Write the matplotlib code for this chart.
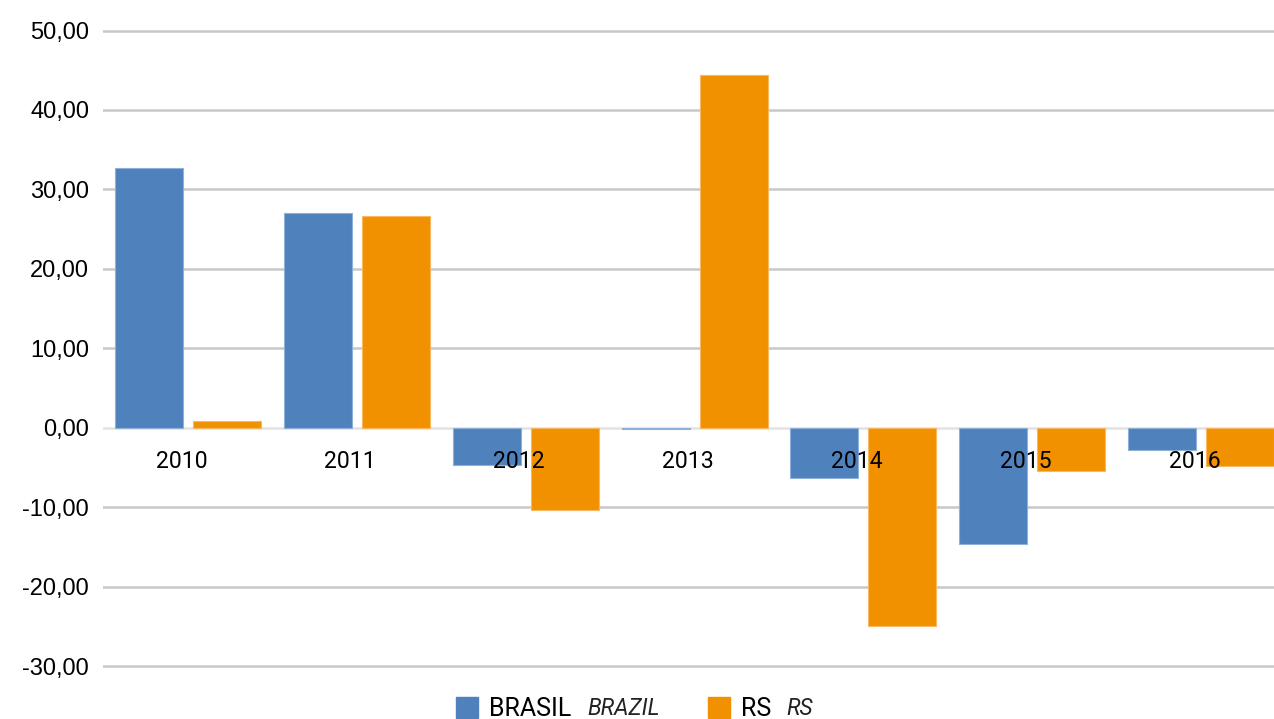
import matplotlib.pyplot as plt
from matplotlib.patches import Patch

plt.rcParams['font.family'] = ['Roboto', 'DejaVu Sans']

years = ['2010', '2011', '2012', '2013', '2014', '2015', '2016']
brasil = [32.7, 27.0, -4.65, -0.15, -6.3, -14.6, -2.8]
rs = [0.9, 26.7, -10.4, 44.4, -24.9, -5.5, -4.8]
yticks = [50, 40, 30, 20, 10, 0, -10, -20, -30]

blue = '#4f81bd'
orange = '#f29100'

fig = plt.figure(figsize=(12.74, 7.19), dpi=100)
ax = fig.add_axes([103 / 1274, 0.0626, 1 - 103 / 1274, 0.906])

x = list(range(len(years)))
w = 0.403
ax.bar([i - 0.231 for i in x], brasil, w, color=blue, edgecolor='#8fb0d8', lw=0.8, zorder=3)
ax.bar([i + 0.231 for i in x], rs, w, color=orange, edgecolor='#f7b860', lw=0.8, zorder=3)

ax.set_xlim(-0.505, 6.432)
ax.set_ylim(-31, 51)
ax.set_yticks(yticks)
ax.set_yticklabels([f'{v:.2f}'.replace('.', ',') for v in yticks],
                   fontsize=17, family='Liberation Sans')
ax.tick_params(axis='y', length=0, pad=10)
ax.set_xticks([])
for v in yticks:
    c = '#e3e3e3' if v == 0 else '#c8c8c8'
    ax.axhline(v, color=c, lw=1.8, zorder=1)

for i, yr in enumerate(years):
    ax.annotate(yr, (i - 0.04, 0), xytext=(0, -24.5), textcoords='offset points',
                ha='center', va='center', fontsize=16.6, zorder=5)

for s in ax.spines.values():
    s.set_visible(False)

# legend: regular label + italic English label
handles = [Patch(color=blue), Patch(color=orange)]
leg = fig.legend(handles, ['BRASIL', 'RS'], loc='center', bbox_to_anchor=(0.4816, 0.014),
                 ncol=2, frameon=False, fontsize=18, handlelength=0.88, handleheight=0.88,
                 handletextpad=0.44, columnspacing=5.44, borderpad=0)
fig.canvas.draw()
r = fig.canvas.get_renderer()
for t, it in zip(leg.get_texts(), ['BRAZIL', 'RS']):
    bb = t.get_window_extent(r)
    fig.text((bb.x1 + 16) / 1274, (bb.y0 + bb.y1) / 2 / 719, it, fontsize=16.3,
             style='italic', va='center', ha='left', color='#222222')

fig.savefig('out.png', dpi=100)
